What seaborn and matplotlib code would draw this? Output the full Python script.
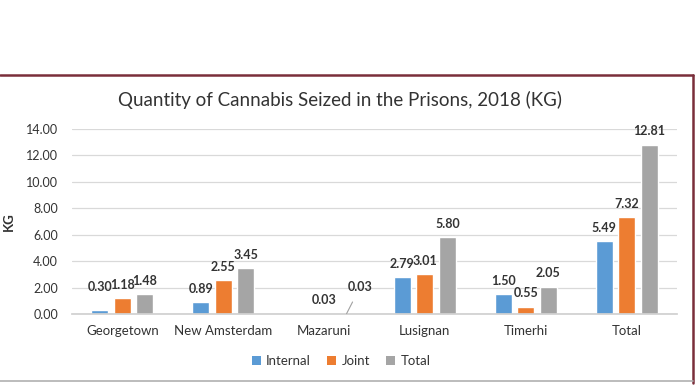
import numpy as np
import pandas as pd
import seaborn as sns
import matplotlib.pyplot as plt
from matplotlib.lines import Line2D
from matplotlib.patches import Patch

categories = ["Georgetown", "New Amsterdam", "Mazaruni", "Lusignan", "Timerhi", "Total"]
series = ["Internal", "Joint", "Total"]
internal = [0.30, 0.89, 0.0, 2.79, 1.50, 5.49]
joint = [1.18, 2.55, 0.03, 3.01, 0.55, 7.32]
total = [1.48, 3.45, 0.03, 5.80, 2.05, 12.81]
yticks = [0, 2, 4, 6, 8, 10, 12, 14]
title = "Quantity of Cannabis Seized in the Prisons, 2018 (KG)"

colors = ["#5B9BD5", "#ED7D31", "#A5A5A5"]

df = pd.DataFrame({
    "Prison": categories * 3,
    "Type": np.repeat(series, len(categories)),
    "KG": internal + joint + total,
})

sns.set_theme(style="white")
plt.rcParams['font.family'] = ['Lato', 'DejaVu Sans']

fig = plt.figure(figsize=(6.96, 3.85), dpi=100)
ax = fig.add_axes([72 / 696, 1 - 314 / 385, 605 / 696, 185 / 385])

sns.barplot(data=df, x="Prison", y="KG", hue="Type", order=categories,
            hue_order=series, palette=colors, saturation=1, width=0.67,
            gap=0.25, errorbar=None, legend=False, ax=ax)

ax.set_ylim(0, 14)
ax.set_yticks(yticks)
ax.set_yticklabels([f"{v:.2f}" for v in yticks])
ax.set_xlim(-0.5, len(categories) - 0.5)
ax.yaxis.grid(True, color="#D9D9D9", lw=0.9)
ax.set_axisbelow(True)
for s in ["top", "right", "left"]:
    ax.spines[s].set_visible(False)
ax.spines["bottom"].set_color("#D0D0D0")
ax.tick_params(axis="both", length=0, colors="#333333")
ax.tick_params(axis="y", labelsize=9, pad=10)
ax.tick_params(axis="x", labelsize=9.5, pad=8)
ax.set_xlabel("")
ax.set_ylabel("KG", fontsize=9.5, fontweight="bold", color="#333333")
ax.yaxis.set_label_coords(-0.094, 0.5)

# label offsets (points): default above bar
special = {(0, 0): (0, 16.5), (2, 2): (10, 19.5)}
for si, cont in enumerate(ax.containers):
    for ci, bar in enumerate(cont):
        v = bar.get_height()
        if v <= 0:
            continue
        x = bar.get_x() + bar.get_width() / 2
        dx, dy = special.get((si, ci), (0, 9.7))
        kw = {}
        if (si, ci) == (2, 2):
            kw["arrowprops"] = dict(arrowstyle="-", color="#A0A0A0", lw=0.8,
                                    shrinkA=5, shrinkB=0)
        ax.annotate(f"{v:.2f}", (x, v), xytext=(dx, dy), textcoords="offset points",
                    ha="center", va="center", fontsize=9, fontweight="bold",
                    color="#333333", **kw)

fig.text(340 / 696, 1 - 100 / 385, title, ha="center", va="center",
         fontsize=13.5, color="#333333")

handles = [Patch(facecolor=c, edgecolor="none", label=s) for c, s in zip(colors, series)]
fig.legend(handles=handles, loc="center", bbox_to_anchor=(341 / 696, 1 - 361 / 385),
           ncol=3, frameon=False, fontsize=9.5, handlelength=0.7, handleheight=0.7,
           handletextpad=0.4, columnspacing=1.2, labelcolor="#333333")

# frame lines
red = "#7A2E3A"
fig.add_artist(Line2D([0, 693 / 696], [1 - 75 / 385, 1 - 75 / 385], color=red, lw=1.8,
                      transform=fig.transFigure))
fig.add_artist(Line2D([693 / 696, 693 / 696], [1 - 75 / 385, 1 - 383 / 385], color=red, lw=1.8,
                      transform=fig.transFigure))
fig.add_artist(Line2D([0, 693 / 696], [1 - 381 / 385, 1 - 381 / 385], color="#B0B0B0", lw=1.2,
                      transform=fig.transFigure))

fig.savefig("out.png", dpi=100)
